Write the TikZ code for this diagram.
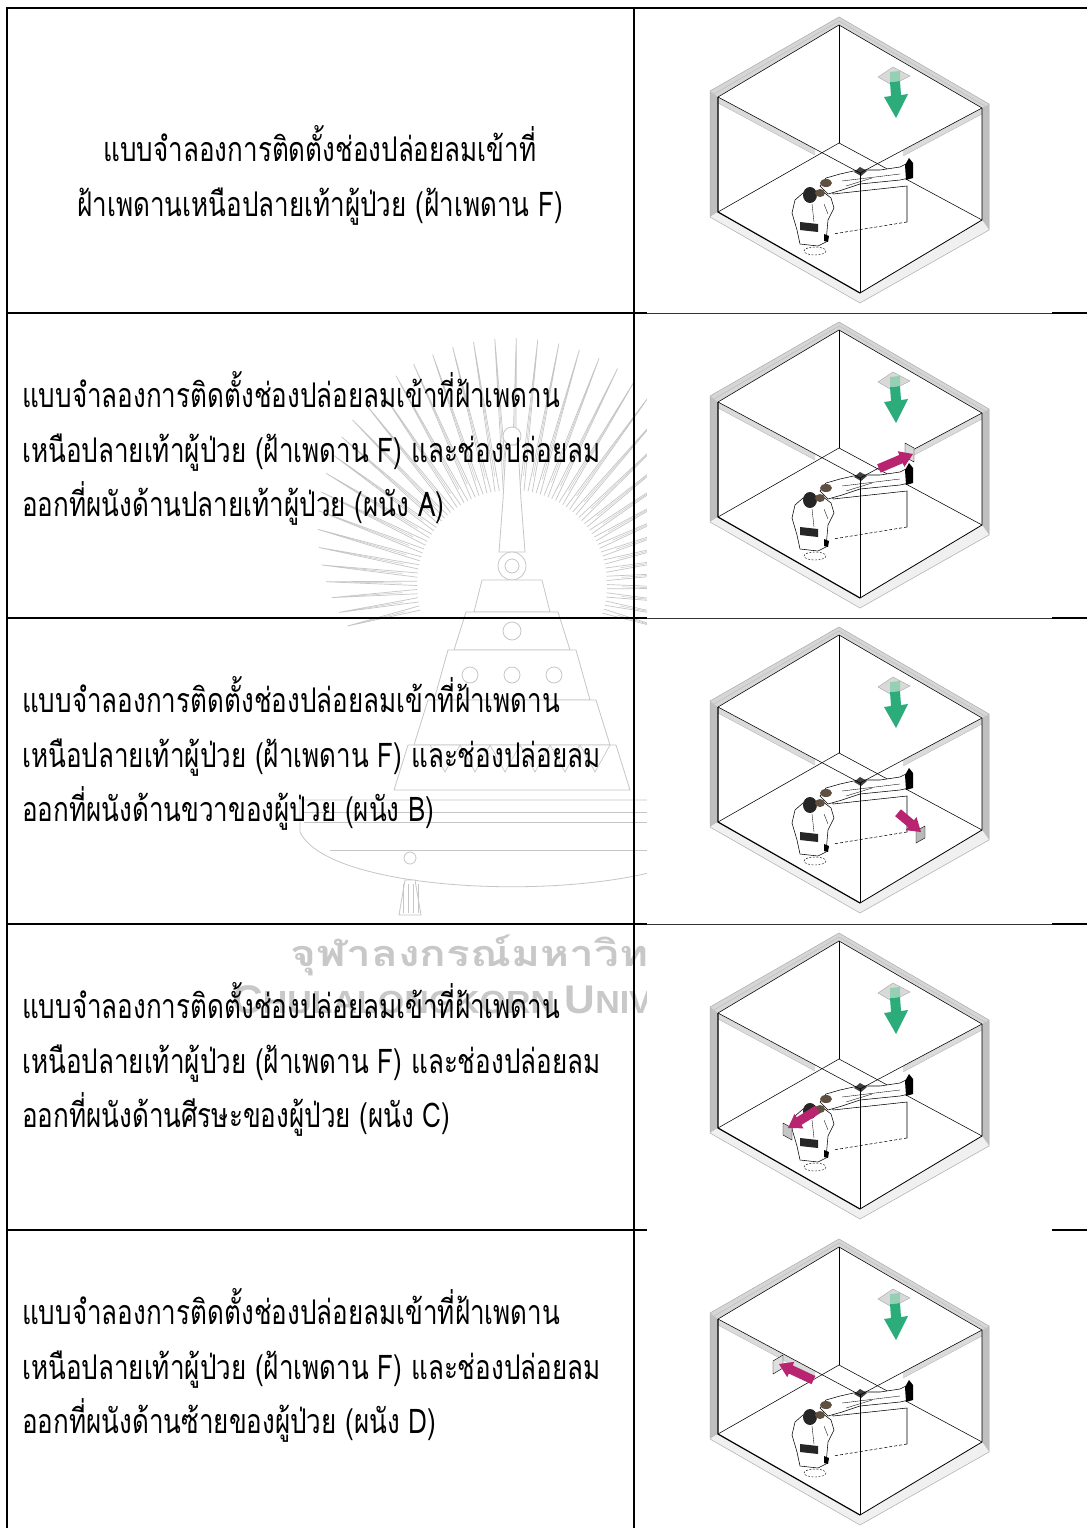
\documentclass[tikz,border=0pt]{standalone}
\usepackage{fontspec}
\usepackage{graphicx}
\newfontfamily\thai[Script=Thai]{Loma}
\newfontfamily\wmlatin{Liberation Sans}
\definecolor{supply}{RGB}{44,171,123}
\definecolor{supplylight}{RGB}{150,208,180}
\definecolor{exhaust}{RGB}{184,36,112}
\definecolor{wmtext}{RGB}{200,200,200}
\definecolor{wmline}{RGB}{198,198,198}
\definecolor{hair}{RGB}{95,80,66}

\newlength\reflen
\newlength\wmlen
\newlength\wmlenb

\newcommand\thline[1]{\scalebox{\hfac}[1]{#1}}

% magenta exhaust arrow: tip x, tip y, visual angle, total length
\newcommand\exharrow[4]{%
  \begin{scope}[shift={(#1,#2)}, rotate=#3]
    \fill[exhaust] (0,0) -- (-13,-8.5) -- (-13,-4.5) -- (-#4,-4.5) -- (-#4,4.5) -- (-13,4.5) -- (-13,8.5) -- cycle;
  \end{scope}}

\tikzset{
  cell/.style={anchor=base west, inner sep=0pt, font=\fontsize{34}{40}\selectfont\thai},
  cellc/.style={anchor=base, inner sep=0pt, font=\fontsize{34}{40}\selectfont\thai},
  rule/.style={line width=2pt},
  edge/.style={line width=0.55pt},
  heavy/.style={line width=1.2pt},
  crest/.style={draw=wmline, line width=0.8pt, fill=white},
  grille/.style={draw=black, line width=0.4pt},
  room/.pic={
    % wall thickness
    \fill[gray!32] (839,9) -- (710,83) -- (718,89) -- (839,17) -- cycle;
    \fill[gray!32] (839,9) -- (989,96) -- (982,100) -- (839,17) -- cycle;
    \fill[gray!50] (710,83) -- (710,209) -- (718,204) -- (718,89) -- cycle;
    \fill[gray!50] (989,96) -- (989,222) -- (982,212) -- (982,100) -- cycle;
    \fill[gray!12] (710,209) -- (860,295) -- (860,285) -- (718,204) -- cycle;
    \fill[gray!12] (860,295) -- (989,222) -- (982,212) -- (860,285) -- cycle;
    \fill[gray!28] (718,89) -- (815,141) -- (815,147) -- (718,95) -- cycle;
    \fill[gray!28] (982,100) -- (903,142) -- (903,148) -- (982,106) -- cycle;
    \draw[gray!65, line width=0.5pt] (839,9) -- (710,83) -- (710,209) -- (860,295) -- (989,222) -- (989,96) -- cycle;
    \draw[gray!55, line width=0.4pt] (718,95) -- (815,147);
    \draw[gray!55, line width=0.4pt] (982,106) -- (903,148);
    \draw[gray!55, line width=0.4pt] (839,13) -- (714,86);
    \draw[gray!55, line width=0.4pt] (839,13) -- (985,98);
    % back corner, ceiling and floor edges
    \draw[edge] (839,17) -- (839,135);
    \draw[edge] (718,204) -- (839,135) -- (982,212);
    \draw[edge] (718,89) -- (839,17) -- (982,100);
    % ceiling supply diffuser
    \fill[gray!30] (878,69) -- (893,59) -- (910,68) -- (892,77) -- cycle;
    \draw[gray!70, line width=0.4pt] (878,69) -- (893,59) -- (910,68) -- (892,77) -- cycle;
    \fill[supply] (890,74) -- (900,73) -- (901,87) -- (908,86) -- (896,110) -- (884,89) -- (891,88) -- cycle;
    \fill[supplylight] (890,64) -- (900,63) -- (900,73) -- (890,74) -- cycle;
    % operating table
    \fill[white] (830,177) -- (904,169) -- (907,178) -- (907,214) -- (833,226) -- (833,186) -- cycle;
    \draw[edge] (833,186) -- (907,178) -- (907,214);
    \draw[edge, dash pattern=on 3pt off 2pt] (907,214) -- (833,226);
    \draw[edge] (833,186) -- (830,177);
    % patient lying on the table
    \draw[edge, fill=white] (820,178) -- (826,170) -- (840,166) -- (858,162) -- (880,162) -- (900,159) -- (906,156) -- (910,161) -- (909,170) -- (900,172) -- (880,174) -- (860,176) -- (842,182) -- (828,186) -- cycle;
    \draw[line width=0.35pt] (842,173) -- (900,166);
    \draw[line width=0.35pt] (846,178) -- (872,170);
    \fill[black!75] (854,164) -- (860,159) -- (867,163) -- (861,168) -- cycle;
    \fill[hair] (826,175) ellipse [x radius=6, y radius=4];
    \fill[black] (905,157) -- (909,150) -- (913,155) -- (913,170) -- (906,172) -- cycle;
    % standing staff member and stool
    \draw[edge, fill=white] (795,192) -- (803,185) -- (822,183) -- (831,190) -- (834,200) -- (828,212) -- (826,234) -- (818,238) -- (800,236) -- (797,222) -- (792,205) -- cycle;
    \draw[line width=0.35pt] (812,196) -- (814,214);
    \draw[line width=0.35pt] (824,196) -- (828,206);
    \fill[black!85] (810,187) ellipse [x radius=7, y radius=8];
    \fill[hair] (820,185) ellipse [x radius=5, y radius=4];
    \fill[black!85] (800,214) -- (818,216) -- (818,224) -- (800,222) -- cycle;
    \fill[black] (824,226) -- (829,228) -- (828,234) -- (824,233) -- cycle;
    \draw[line width=0.4pt, dash pattern=on 2pt off 1.5pt] (815,243) ellipse [x radius=11, y radius=4];
    % front edges
    \draw[edge] (718,89) -- (860,165) -- (982,100);
    \draw[edge] (860,165) -- (860,285);
    \draw[heavy] (718,89) -- (718,204) -- (860,285);
    \draw[line width=0.8pt] (860,285) -- (982,212) -- (982,100);
  }
}

\begin{document}
\settowidth\reflen{\fontsize{34}{40}\selectfont\thai แบบจำลองการติดตั้งช่องปล่อยลมเข้าที่ฝ้าเพดาน}
\pgfmathsetmacro\hfac{538/\reflen}
\settowidth\wmlen{\fontsize{36}{40}\selectfont\thai\bfseries จุฬาลงกรณ์มหาวิทยาลัย}
\pgfmathsetmacro\wmfac{462/\wmlen}
\settowidth\wmlenb{\wmlatin\bfseries\fontsize{40}{40}\selectfont C\fontsize{32}{32}\selectfont HULALONGKORN}
\pgfmathsetmacro\wmfacb{323/\wmlenb}
\begin{tikzpicture}[x=1pt,y=-1pt]
\useasboundingbox (0,0) rectangle (1087,1528);
\fill[white] (0,0) rectangle (1087,1528);

% university crest watermark: rays
\foreach \a in {-16,-11,...,196} {
  \pgfmathsetmacro\Ro{185+62*sin(\a)}
  \pgfmathsetmacro\Rm{\Ro-12}
  \pgfmathsetmacro\xa{512+95*cos(\a-1.3)}
  \pgfmathsetmacro\ya{585-95*sin(\a-1.3)}
  \pgfmathsetmacro\xb{512+\Ro*cos(\a)}
  \pgfmathsetmacro\yb{585-\Ro*sin(\a)}
  \pgfmathsetmacro\xc{512+95*cos(\a+1.3)}
  \pgfmathsetmacro\yc{585-95*sin(\a+1.3)}
  \pgfmathsetmacro\xm{512+110*cos(\a)}
  \pgfmathsetmacro\ym{585-110*sin(\a)}
  \pgfmathsetmacro\xn{512+\Rm*cos(\a)}
  \pgfmathsetmacro\yn{585-\Rm*sin(\a)}
  \draw[crest, line width=0.7pt] (\xa,\ya) -- (\xb,\yb) -- (\xc,\yc);
  \draw[draw=wmline, line width=0.5pt] (\xm,\ym) -- (\xn,\yn);
}
% spire and crown tiers
\draw[crest] (506,445) -- (503,500) -- (499,552) -- (525,552) -- (521,500) -- (518,445) -- cycle;
\draw[crest] (512,436) circle[radius=9];
\draw[crest] (512,566) circle[radius=14];
\draw[crest] (512,566) circle[radius=7];
\draw[crest] (482,580) -- (542,580) -- (550,612) -- (474,612) -- cycle;
\draw[crest] (466,612) -- (558,612) -- (570,650) -- (454,650) -- cycle;
\draw[crest] (448,650) -- (576,650) -- (590,700) -- (434,700) -- cycle;
\draw[crest] (428,700) -- (596,700) -- (610,745) -- (414,745) -- cycle;
\draw[crest] (408,745) -- (616,745) -- (630,790) -- (394,790) -- cycle;
\draw[crest] (512,631) circle[radius=9];
\foreach \cx in {470,512,554} \draw[crest] (\cx,675) circle[radius=8];
\foreach \cx in {430,460,...,600} \draw[draw=wmline, line width=0.7pt] (\cx,745) -- (\cx+15,772) -- (\cx+30,745);
% tray base and tassel
\draw[crest] (300,800) -- (724,800) -- (724,832) .. controls (690,905) and (334,905) .. (300,832) -- cycle;
\draw[draw=wmline, line width=0.8pt] (304,812) -- (720,812);
\draw[draw=wmline, line width=0.8pt] (304,822) -- (720,822);
\draw[draw=wmline, line width=0.8pt] (330,850) -- (694,850);
\draw[crest] (410,858) circle[radius=6];
\draw[crest] (405,880) -- (399,915) -- (421,915) -- (415,880) -- cycle;
\foreach \tx in {403,408,...,418} \draw[draw=wmline, line width=0.6pt] (\tx,884) -- (\tx,913);

% watermark lettering
\node[anchor=base west, inner sep=0pt, text=wmtext, font=\fontsize{36}{40}\selectfont\thai\bfseries] (wmth) at (290,966) {\scalebox{\wmfac}[1]{จุฬาลงกรณ์มหาวิทยาลัย}};
\node[anchor=base west, inner sep=0pt, text=wmtext, font=\wmlatin\bfseries] (wmen) at (232,1013) {\scalebox{\wmfacb}[1]{\fontsize{40}{40}\selectfont C\fontsize{32}{32}\selectfont HULALONGKORN \fontsize{40}{40}\selectfont U\fontsize{32}{32}\selectfont NIVERSITY}};

% table rules
\draw[rule] (6,8) -- (1087,8);
\draw[rule] (7,8) -- (7,1528);
\draw[rule] (634,8) -- (634,1528);
\foreach \yy in {313,618,924,1230} \draw[rule] (7,\yy) -- (1087,\yy);

% picture panels of the right column
\fill[white] (647,9.2) rectangle (1052,1528);
\foreach \yy in {313,618,924} \draw[line width=0.7pt, black!80] (647,\yy) -- (1052,\yy);

\pic at (0,8) {room};
\pic at (0,313) {room};
\pic at (0,618) {room};
\pic at (0,924) {room};
\pic at (0,1230) {room};

% exhaust grilles and arrows
\begin{scope}[shift={(0,313)}]
  \draw[grille, fill=gray!30] (905,130) -- (914,135) -- (914,149) -- (905,144) -- cycle;
  \exharrow{913}{141}{23}{37}
\end{scope}
\begin{scope}[shift={(0,618)}]
  \draw[grille, fill=gray!55] (916,213) -- (925,208) -- (925,220) -- (916,225) -- cycle;
  \exharrow{921}{214}{-40}{30}
\end{scope}
\begin{scope}[shift={(0,924)}]
  \draw[grille, fill=gray!45] (783,199) -- (792,204) -- (792,216) -- (783,211) -- cycle;
  \exharrow{788}{204}{212}{35}
\end{scope}
\begin{scope}[shift={(0,1230)}]
  \draw[grille, fill=gray!25] (773,131) -- (783,125) -- (783,138) -- (773,144) -- cycle;
  \exharrow{779}{134}{155}{38}
\end{scope}

% descriptions
\node[cellc] (r1a) at (320,161) {\thline{แบบจำลองการติดตั้งช่องปล่อยลมเข้าที่}};
\node[cellc] (r1b) at (320,216) {\thline{ฝ้าเพดานเหนือปลายเท้าผู้ป่วย (ฝ้าเพดาน F)}};

\node[cell] (r2a) at (22,407) {\thline{แบบจำลองการติดตั้งช่องปล่อยลมเข้าที่ฝ้าเพดาน}};
\node[cell] (r2b) at (22,462) {\thline{เหนือปลายเท้าผู้ป่วย (ฝ้าเพดาน F) และช่องปล่อยลม}};
\node[cell] (r2c) at (22,516) {\thline{ออกที่ผนังด้านปลายเท้าผู้ป่วย (ผนัง A)}};

\node[cell] (r3a) at (22,712) {\thline{แบบจำลองการติดตั้งช่องปล่อยลมเข้าที่ฝ้าเพดาน}};
\node[cell] (r3b) at (22,767) {\thline{เหนือปลายเท้าผู้ป่วย (ฝ้าเพดาน F) และช่องปล่อยลม}};
\node[cell] (r3c) at (22,821) {\thline{ออกที่ผนังด้านขวาของผู้ป่วย (ผนัง B)}};

\node[cell] (r4a) at (22,1018) {\thline{แบบจำลองการติดตั้งช่องปล่อยลมเข้าที่ฝ้าเพดาน}};
\node[cell] (r4b) at (22,1073) {\thline{เหนือปลายเท้าผู้ป่วย (ฝ้าเพดาน F) และช่องปล่อยลม}};
\node[cell] (r4c) at (22,1127) {\thline{ออกที่ผนังด้านศีรษะของผู้ป่วย (ผนัง C)}};

\node[cell] (r5a) at (22,1324) {\thline{แบบจำลองการติดตั้งช่องปล่อยลมเข้าที่ฝ้าเพดาน}};
\node[cell] (r5b) at (22,1379) {\thline{เหนือปลายเท้าผู้ป่วย (ฝ้าเพดาน F) และช่องปล่อยลม}};
\node[cell] (r5c) at (22,1433) {\thline{ออกที่ผนังด้านซ้ายของผู้ป่วย (ผนัง D)}};
\end{tikzpicture}
\end{document}
